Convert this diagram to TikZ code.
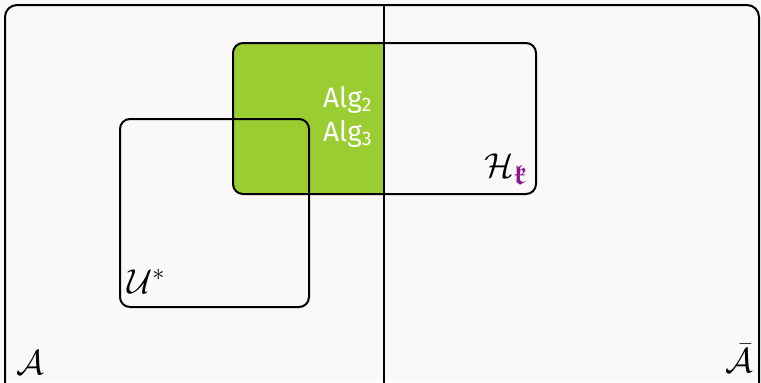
\documentclass[tikz,border=0pt]{standalone}
\usepackage{fontspec}
\setsansfont{Fira Sans}
\usepackage{amsmath}
\usepackage{amssymb}
\usepackage{tikz}

\definecolor{algfill}{RGB}{154,205,50}
\definecolor{kpurple}{RGB}{140,20,140}
\definecolor{paper}{RGB}{250,249,247}

% bold fraktur k used as index of H
\newcommand{\kidx}{\mbox{\fontsize{14}{14}\selectfont\color{kpurple}$\boldsymbol{\mathfrak{k}}$}}

\tikzset{
  region/.style={draw, line width=1pt, rounded corners=5pt},
  setlabel/.style={inner sep=0pt, font=\fontsize{16.5}{18}\selectfont},
  alglabel/.style={inner sep=0pt, text=white, font=\sffamily\fontsize{14}{17}\selectfont, align=right}
}

\begin{document}
\begin{tikzpicture}[x=0.5pt, y=-0.5pt]
        \clip (0,0) rectangle (761,382);
        \fill[paper] (0,0) rectangle (761,382);
        % Whole space split into A and its complement
        \draw[region, rounded corners=6pt] (5,5) rectangle (759,400);
        \draw[line width=1pt] (384,5) -- (384,400);
    
        % Green part of H_k lying inside A
        \fill[algfill, rounded corners=5pt] (233,43) rectangle (400,194);
        \fill[paper] (385,40) rectangle (402,198);
        \draw[region] (233,43) rectangle (536,194);
        \draw[region] (120,119) rectangle (309,307);
        \draw[line width=1pt] (384,43) -- (384,194);
    
        \node[alglabel, anchor=north east] (alg) at (373,86) {Alg\textsubscript{2}\\Alg\textsubscript{3}};
    
        \node[setlabel, anchor=base east] (hk) at (528,177) {$\mathcal{H}_{\kidx}$};
        \node[setlabel, anchor=base west] (ustar) at (127,293) {$\mathcal{U}^*$};
        \node[setlabel, anchor=base west] (a) at (16,374) {$\mathcal{A}$};
        \node[setlabel, anchor=base east] (abar) at (753,372) {$\bar{\mathcal{A}}$};
      \end{tikzpicture}
\end{document}
